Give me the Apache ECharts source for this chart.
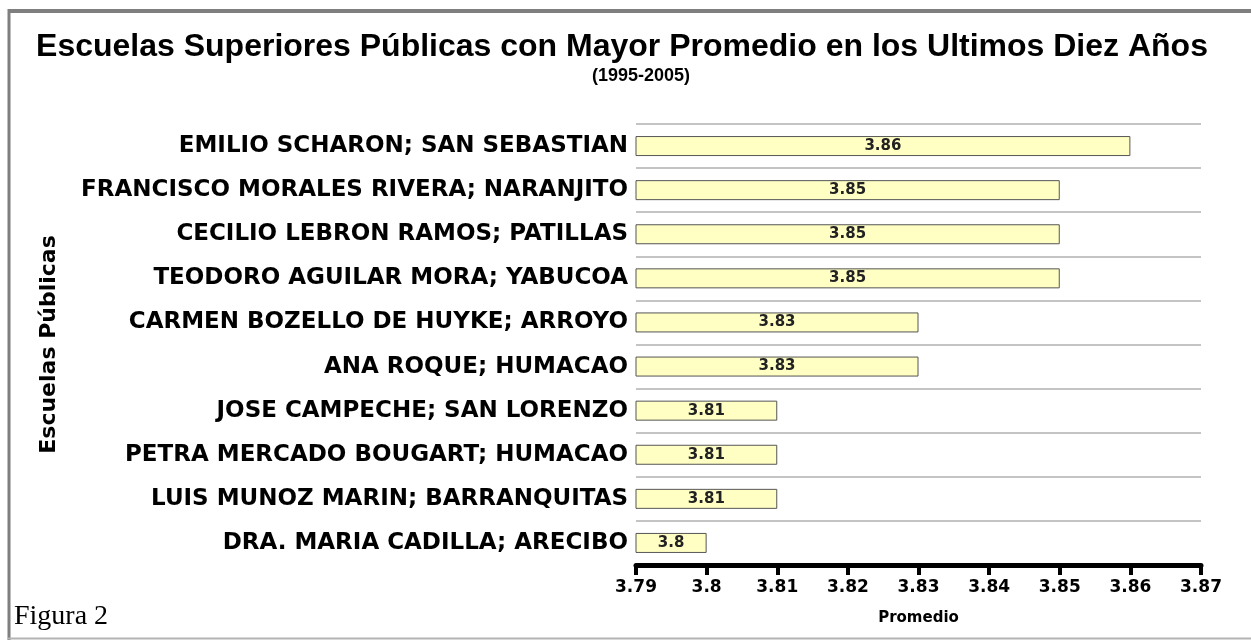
<!DOCTYPE html>
<html>
<head>
<meta charset="utf-8">
<script src="https://cdn.jsdelivr.net/npm/echarts@6/dist/echarts.min.js"></script>
<style>
  html, body { margin: 0; padding: 0; background: #fff; }
  #chart { width: 1251px; height: 641px; }
</style>
</head>
<body>
<div id="chart"></div>
<script>
// escuelas, de arriba hacia abajo
const escuelas = [
  "EMILIO SCHARON; SAN SEBASTIAN",
  "FRANCISCO MORALES RIVERA; NARANJITO",
  "CECILIO LEBRON RAMOS; PATILLAS",
  "TEODORO AGUILAR MORA; YABUCOA",
  "CARMEN BOZELLO DE HUYKE; ARROYO",
  "ANA ROQUE; HUMACAO",
  "JOSE CAMPECHE; SAN LORENZO",
  "PETRA MERCADO BOUGART; HUMACAO",
  "LUIS MUNOZ MARIN; BARRANQUITAS",
  "DRA. MARIA CADILLA; ARECIBO"
];
const promedios = [3.86, 3.85, 3.85, 3.85, 3.83, 3.83, 3.81, 3.81, 3.81, 3.8];
const ejeMin = 3.79;
const ejeMax = 3.87;
const ejePaso = 0.01;

const font = "'DejaVu Sans', Verdana, sans-serif";
const arial = "'Liberation Sans', Arial, sans-serif";

const option = {
  backgroundColor: "#fff",
  animation: false,
  title: [
    {
      text: "Escuelas Superiores Públicas con Mayor Promedio en los Ultimos Diez Años",
      left: 617, top: 26, textAlign: "center",
      textStyle: { fontFamily: arial, fontSize: 32, fontWeight: "bold", color: "#000" }
    },
    {
      text: "(1995-2005)",
      left: 636, top: 62, textAlign: "center",
      textStyle: { fontFamily: arial, fontSize: 18, fontWeight: "bold", color: "#000" }
    }
  ],
  graphic: [
    // marco (el borde derecho queda fuera de la imagen)
    { type: "line", shape: { x1: 8, y1: 11, x2: 1251, y2: 11 }, style: { stroke: "#7f7f7f", lineWidth: 4 } },
    { type: "line", shape: { x1: 9, y1: 9, x2: 9, y2: 640 }, style: { stroke: "#7f7f7f", lineWidth: 3 } },
    { type: "line", shape: { x1: 8, y1: 638.5, x2: 1251, y2: 638.5 }, style: { stroke: "#b4b4b4", lineWidth: 2 } },
    {
      type: "text", left: 14, top: 603,
      style: { text: "Figura 2", font: "28px 'Liberation Serif', 'Times New Roman', serif", fill: "#000" }
    }
  ],
  grid: { left: 636, right: 50, top: 124, height: 441, containLabel: false },
  xAxis: {
    type: "value",
    min: ejeMin, max: ejeMax, interval: ejePaso,
    name: "Promedio", nameLocation: "middle", nameGap: 46,
    nameTextStyle: { fontFamily: font, fontSize: 15, fontWeight: "bold", color: "#000" },
    axisLine: { show: true, lineStyle: { color: "#000", width: 5 } },
    axisTick: { show: true, length: 10, lineStyle: { color: "#000", width: 4 } },
    axisLabel: { margin: 14, fontFamily: font, fontSize: 17, fontWeight: "bold", color: "#000" },
    splitLine: { show: false }
  },
  yAxis: {
    type: "category",
    data: escuelas,
    inverse: true,
    name: "Escuelas Públicas", nameLocation: "middle", nameRotate: 90, nameGap: 576,
    nameTextStyle: { fontFamily: font, fontSize: 22, fontWeight: "bold", color: "#000" },
    axisLine: { show: false },
    axisTick: { show: false },
    axisLabel: { margin: 8, fontFamily: font, fontSize: 23, fontWeight: "bold", color: "#000" },
    splitLine: { show: true, lineStyle: { color: "#c4c4c4", width: 2 } }
  },
  series: [{
    type: "bar",
    data: promedios,
    barWidth: 20,
    itemStyle: { color: "#ffffc4", borderColor: "#555", borderWidth: 1 },
    label: {
      show: true, position: "inside",
      fontFamily: font, fontSize: 15, fontWeight: "bold", color: "#222"
    }
  }]
};

const chart = echarts.init(document.getElementById("chart"));
chart.setOption(option);
</script>
</body>
</html>
